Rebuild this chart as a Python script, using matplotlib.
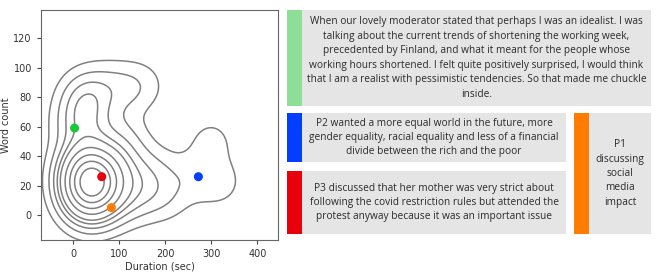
import numpy as np
import matplotlib.pyplot as plt
import matplotlib.patches as patches
import seaborn as sns

# quote durations (sec) and word counts behind the density contours
durations = [35, 30, 40, 25, 45, 20, 38, 32, 50, 15, 28, 42, 55, 12, 36, 60, 22, 48, 8, 65,
             30, 18, 70, 40, 58, 12, 75, 26, 44, 34,
             3, 20, 30, 35, 25, 15, 40,
             62, 83, 95, 110, 120, 140, 160, 185, 100, 130, 205,
             75, 110, 150,
             265, 300, 320]
word_counts = [22, 20, 25, 18, 20, 24, 15, 30, 26, 20, 12, 32, 18, 28, 8, 24, 35, 10, 15, 30,
               40, 5, 15, 2, 38, 38, 22, 28, 18, 24,
               59, 80, 85, 75, 70, 65, 55,
               26, 5, 35, 20, 45, 28, 15, 30, 55, 10, 12,
               88, 85, 88,
               26, 50, 22]

# highlighted quotes
hl_duration = [3, 272, 62, 83]
hl_words = [59, 26, 26, 5]
hl_colors = ["#1ac938", "#023eff", "#e8000b", "#ff7c00"]

quotes = [
    "When our lovely moderator stated that perhaps I was an idealist. I was\n"
    "talking about the current trends of shortening the working week,\n"
    "precedented by Finland, and what it meant for the people whose\n"
    "working hours shortened. I felt quite positively surprised, I would think\n"
    "that I am a realist with pessimistic tendencies. So that made me chuckle\n"
    "inside.",
    "P2 wanted a more equal world in the future, more\n"
    "gender equality, racial equality and less of a financial\n"
    "divide between the rich and the poor",
    "P3 discussed that her mother was very strict about\n"
    "following the covid restriction rules but attended the\n"
    "protest anyway because it was an important issue",
    "P1\ndiscussing\nsocial\nmedia\nimpact",
]
bar_colors = ["#8ddf98", "#023eff", "#e8000b", "#ff7c00"]
# box layout in pixels: left, top, right, bottom
boxes = [(287, 10, 651, 106), (287, 113, 566, 162), (287, 171, 566, 234), (574, 113, 651, 234)]

fig = plt.figure(figsize=(6.64, 2.75), dpi=100)
ax = fig.add_axes([0.0617, 0.127, 0.357, 0.836])
sns.kdeplot(x=durations, y=word_counts, ax=ax, color="gray", linewidths=1.1)
ax.scatter(hl_duration, hl_words, c=hl_colors, s=30, zorder=3)
ax.set_xlim(-70, 445)
ax.set_ylim(-17, 139)
ax.set_xticks([0, 100, 200, 300, 400])
ax.set_yticks([0, 20, 40, 60, 80, 100, 120])
ax.tick_params(labelsize=7, length=3, color="#444444", labelcolor="#333333")
ax.set_xlabel("Duration (sec)", fontsize=7, color="#333333", labelpad=2)
ax.set_ylabel("Word count", fontsize=7, color="#333333", labelpad=2)
for s in ax.spines.values():
    s.set_color("#666666")

# text panel drawn in pixel coordinates
tax = fig.add_axes([0, 0, 1, 1], zorder=-1)
tax.set_xlim(0, 664)
tax.set_ylim(275, 0)
tax.axis("off")
for (l, t, r, b), txt, col in zip(boxes, quotes, bar_colors):
    tax.add_patch(patches.Rectangle((l, t), r - l, b - t, facecolor="#e5e5e5", edgecolor="none"))
    tax.add_patch(patches.Rectangle((l, t), 15, b - t, facecolor=col, edgecolor="none"))
    tax.text((l + 15 + r) / 2, (t + b) / 2, txt, ha="center", va="center",
             fontsize=7.3, family="Open Sans", color="#2a2a2a", linespacing=1.43)

fig.savefig("out.png", dpi=100)
